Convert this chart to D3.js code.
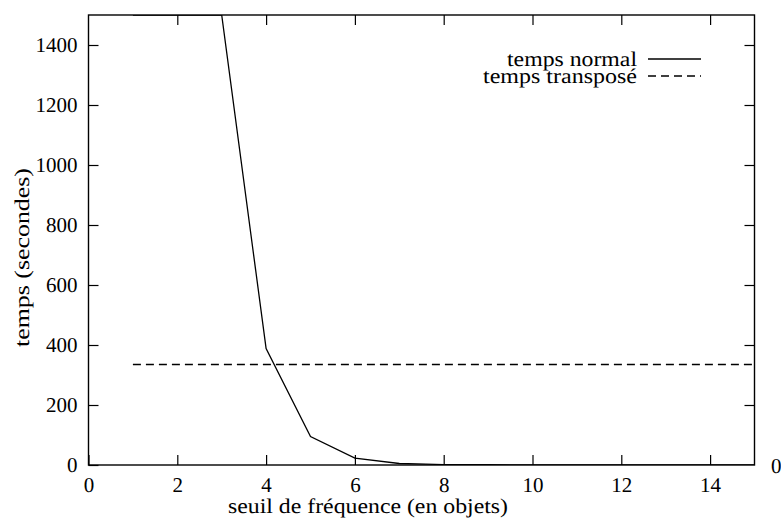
<!DOCTYPE html>
<html>
<head>
<meta charset="utf-8">
<script src="https://cdn.jsdelivr.net/npm/d3@7"></script>
<style>
  body { margin: 0; background: #fff; }
  svg text { font-family: "Liberation Serif"; fill: #000; text-rendering: geometricPrecision; }
</style>
</head>
<body>
<div id="chart"></div>
<script>
// seuil de fréquence (en objets)
const seuils = [1, 2, 3, 4, 5, 6, 7, 8, 9, 10, 11, 12, 13, 14, 15];
// temps normal (secondes) - the first points go off the top of the plot
const tempsNormal = [1500, 1500, 1500, 388, 95, 23, 5, 1.5, 0.8, 0.5, 0.3, 0.2, 0.2, 0.1, 0.1];
// temps transposé (secondes)
const tempsTranspose = [335, 335, 335, 335, 335, 335, 335, 335, 335, 335, 335, 335, 335, 335, 335];
const xTicks = [0, 2, 4, 6, 8, 10, 12, 14];
const yTicks = [0, 200, 400, 600, 800, 1000, 1200, 1400];

const W = 781, H = 525;
const margin = {top: 15, right: 26.5, bottom: 60, left: 88.5};
const w = W - margin.left - margin.right;
const h = H - margin.top - margin.bottom;
const serif = '"Liberation Serif"';

const svg = d3.select("#chart").append("svg")
    .attr("width", W)
    .attr("height", H);

const g = svg.append("g")
    .attr("transform", `translate(${margin.left},${margin.top})`);

const x = d3.scaleLinear().domain([0, 15]).range([0, w]);
const y = d3.scaleLinear().domain([0, 1500]).range([h, 0]);

g.append("clipPath").attr("id", "clip")
  .append("rect").attr("width", w).attr("height", h);

// axes with inward ticks, mirrored on top and right (gnuplot style)
const tick = 10;
g.append("g")
    .attr("transform", `translate(0,${h})`)
    .call(d3.axisBottom(x).tickValues(xTicks).tickSize(-tick).tickPadding(12).tickFormat(d3.format("d")))
    .call(a => a.select(".domain").remove());
g.append("g")
    .call(d3.axisTop(x).tickValues(xTicks.slice(1)).tickSize(-tick).tickFormat(""))
    .call(a => a.select(".domain").remove());
g.append("g")
    .call(d3.axisLeft(y).tickValues(yTicks).tickSize(-tick).tickPadding(11).tickFormat(d3.format("d")))
    .call(a => a.select(".domain").remove());
g.append("g")
    .attr("transform", `translate(${w},0)`)
    .call(d3.axisRight(y).tickValues(yTicks.slice(1)).tickSize(-tick).tickFormat(""))
    .call(a => a.select(".domain").remove());

g.selectAll(".tick line").attr("stroke", "#000").attr("stroke-width", 1.2);
g.selectAll(".tick text")
    .attr("font-family", null)
    .style("font-family", serif)
    .style("font-size", "21px");

// frame
g.append("rect")
    .attr("width", w)
    .attr("height", h)
    .attr("fill", "none")
    .attr("stroke", "#000")
    .attr("stroke-width", 1.4);

const line = d3.line()
    .x((d, i) => x(seuils[i]))
    .y(d => y(d));

const plot = g.append("g").attr("clip-path", "url(#clip)");

plot.append("path")
    .datum(tempsNormal)
    .attr("d", line)
    .attr("fill", "none")
    .attr("stroke", "#000")
    .attr("stroke-width", 1.3);

plot.append("path")
    .datum(tempsTranspose)
    .attr("d", line)
    .attr("fill", "none")
    .attr("stroke", "#000")
    .attr("stroke-width", 1.3)
    .attr("stroke-dasharray", "8,5");

// legend (text is a bit stretched in the original)
const legend = [
  {label: "temps normal", len: 130, dash: null},
  {label: "temps transposé", len: 154, dash: "8,5"}
];
const lg = svg.append("g").attr("transform", "translate(637,66)");
legend.forEach((d, i) => {
  lg.append("text")
      .attr("x", 0)
      .attr("y", i * 17)
      .attr("text-anchor", "end")
      .attr("textLength", d.len)
      .attr("lengthAdjust", "spacingAndGlyphs")
      .style("font-family", serif)
      .style("font-size", "21px")
      .text(d.label);
  lg.append("line")
      .attr("x1", 11).attr("x2", 64)
      .attr("y1", i * 17 - 7).attr("y2", i * 17 - 7)
      .attr("stroke", "#000")
      .attr("stroke-width", 1.3)
      .attr("stroke-dasharray", d.dash);
});

// axis titles
svg.append("text")
    .attr("x", 368)
    .attr("y", 513)
    .attr("text-anchor", "middle")
    .attr("textLength", 280)
    .attr("lengthAdjust", "spacingAndGlyphs")
    .style("font-family", serif)
    .style("font-size", "21px")
    .text("seuil de fréquence (en objets)");

svg.append("text")
    .attr("transform", "translate(29,257.5) rotate(-90)")
    .attr("text-anchor", "middle")
    .attr("textLength", 179)
    .attr("lengthAdjust", "spacingAndGlyphs")
    .style("font-family", serif)
    .style("font-size", "21px")
    .text("temps (secondes)");

// stray label at the right of the x axis
svg.append("text")
    .attr("x", 771)
    .attr("y", 473)
    .style("font-family", serif)
    .style("font-size", "21px")
    .text("0");
</script>
</body>
</html>
